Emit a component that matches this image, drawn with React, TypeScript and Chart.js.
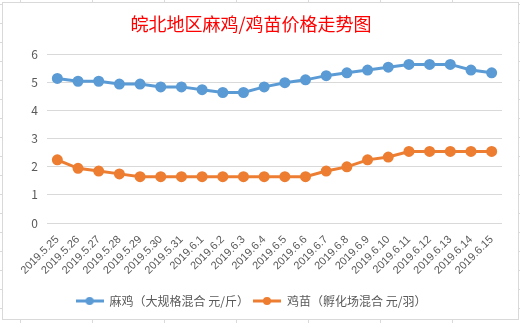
import React, { useEffect, useRef } from "react";
import { Chart, registerables } from "chart.js";

Chart.register(...registerables);

const title = "皖北地区麻鸡/鸡苗价格走势图";
const categories = [
  "2019.5.25", "2019.5.26", "2019.5.27", "2019.5.28", "2019.5.29", "2019.5.30", "2019.5.31",
  "2019.6.1", "2019.6.2", "2019.6.3", "2019.6.4", "2019.6.5", "2019.6.6", "2019.6.7",
  "2019.6.8", "2019.6.9", "2019.6.10", "2019.6.11", "2019.6.12", "2019.6.13", "2019.6.14", "2019.6.15",
];
const majiLabel = "麻鸡（大规格混合 元/斤）";
const majiPrices = [5.15, 5.05, 5.05, 4.95, 4.95, 4.85, 4.85, 4.75, 4.65, 4.65, 4.85, 5.0, 5.1, 5.25, 5.35, 5.45, 5.55, 5.65, 5.65, 5.65, 5.45, 5.35];
const jimiaoLabel = "鸡苗（孵化场混合 元/羽）";
const jimiaoPrices = [2.25, 1.95, 1.85, 1.75, 1.65, 1.65, 1.65, 1.65, 1.65, 1.65, 1.65, 1.65, 1.65, 1.85, 2.0, 2.25, 2.35, 2.55, 2.55, 2.55, 2.55, 2.55];
const yMin = 0;
const yMax = 6;
const yStep = 1;

const BLUE = "#5B9BD5";
const ORANGE = "#ED7D31";
const FONT = "'Noto Sans CJK SC', 'Noto Sans', sans-serif";

function legendIcon(color: string) {
  const c = document.createElement("canvas");
  c.width = 28;
  c.height = 10;
  const ctx = c.getContext("2d")!;
  ctx.strokeStyle = color;
  ctx.lineWidth = 3;
  ctx.beginPath();
  ctx.moveTo(0, 5);
  ctx.lineTo(28, 5);
  ctx.stroke();
  ctx.fillStyle = color;
  ctx.beginPath();
  ctx.arc(14, 5, 4, 0, Math.PI * 2);
  ctx.fill();
  return c;
}

const sheetBackground = {
  id: "sheetBackground",
  beforeDraw(chart: any) {
    const { ctx, width, height } = chart;
    ctx.save();
    ctx.fillStyle = "#ffffff";
    ctx.fillRect(0, 0, width, height);
    ctx.strokeStyle = "#dadada";
    ctx.lineWidth = 1;
    ctx.beginPath();
    for (let x = 20.5; x < width; x += 72) {
      ctx.moveTo(x, 0);
      ctx.lineTo(x, height);
    }
    for (let y = 4.5; y < height; y += 19) {
      ctx.moveTo(0, y);
      ctx.lineTo(width, y);
    }
    ctx.stroke();
    ctx.fillStyle = "#ffffff";
    ctx.fillRect(2.5, 2.5, 516, 317);
    ctx.strokeStyle = "#d9d9d9";
    ctx.strokeRect(2.5, 2.5, 516, 317);
    ctx.restore();
  },
};

export default function App() {
  const ref = useRef<HTMLCanvasElement>(null);
  useEffect(() => {
    document.body.style.margin = "0";
    const icons = [legendIcon(BLUE), legendIcon(ORANGE)];
    const chart = new Chart(ref.current!, {
      type: "line",
      data: {
        labels: categories,
        datasets: [
          {
            label: majiLabel,
            data: majiPrices,
            borderColor: BLUE,
            backgroundColor: BLUE,
            borderWidth: 3,
            pointRadius: 4,
            pointBackgroundColor: BLUE,
            pointBorderColor: BLUE,
            tension: 0,
          },
          {
            label: jimiaoLabel,
            data: jimiaoPrices,
            borderColor: ORANGE,
            backgroundColor: ORANGE,
            borderWidth: 3,
            pointRadius: 4,
            pointBackgroundColor: ORANGE,
            pointBorderColor: ORANGE,
            tension: 0,
          },
        ],
      },
      options: {
        responsive: false,
        animation: false,
        devicePixelRatio: 1,
        layout: { padding: { left: 0, right: 18, top: 0, bottom: 6 } },
        plugins: {
          title: {
            display: true,
            text: title,
            color: "#FF0000",
            font: { family: FONT, size: 18, weight: "normal" },
            padding: { top: 13, bottom: 20 },
          },
          legend: {
            position: "bottom",
            labels: {
              usePointStyle: true,
              pointStyleWidth: 28,
              color: "#595959",
              font: { family: FONT, size: 12 },
              padding: 4,
              generateLabels: (ch: any) =>
                ch.data.datasets.map((ds: any, i: number) => ({
                  text: ds.label,
                  pointStyle: icons[i],
                  fillStyle: ds.borderColor,
                  strokeStyle: ds.borderColor,
                  lineWidth: 0,
                  hidden: false,
                  datasetIndex: i,
                  fontColor: "#595959",
                })),
            },
          },
          tooltip: { enabled: false },
        },
        scales: {
          x: {
            offset: true,
            grid: { display: false },
            border: { display: false },
            ticks: {
              color: "#595959",
              font: { family: "'Liberation Sans', sans-serif", size: 11 },
              minRotation: 45,
              maxRotation: 45,
              autoSkip: false,
              padding: 2,
            },
            afterFit: (s: any) => {
              s.height = 68;
            },
          },
          y: {
            min: yMin,
            max: yMax,
            grid: { color: "#d9d9d9", drawTicks: false, lineWidth: 1 },
            border: { display: false },
            ticks: {
              stepSize: yStep,
              color: "#595959",
              font: { family: FONT, size: 12 },
              padding: 9,
            },
            afterFit: (s: any) => {
              s.width = 47;
            },
          },
        },
      },
      plugins: [sheetBackground],
    });
    return () => chart.destroy();
  }, []);
  return <canvas ref={ref} width={520} height={323} style={{ display: "block" }} />;
}
